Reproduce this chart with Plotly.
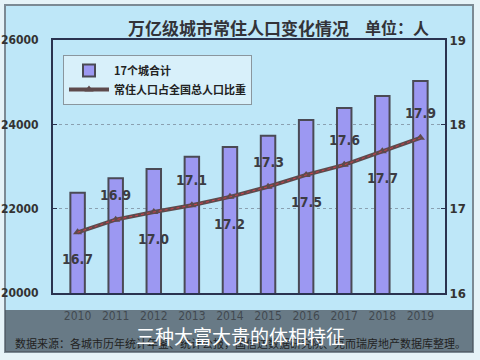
import plotly.graph_objects as go

years = ["2010", "2011", "2012", "2013", "2014", "2015", "2016", "2017", "2018", "2019"]
pop_total = [22380, 22720, 22940, 23230, 23460, 23730, 24100, 24390, 24670, 25030]
share = [16.72, 16.87, 16.96, 17.04, 17.14, 17.26, 17.40, 17.52, 17.68, 17.84]
share_labels = ["16.7", "16.9", "17.0", "17.1", "17.2", "17.3", "17.5", "17.6", "17.7", "17.9"]
left_ticks = [20000, 22000, 24000, 26000]
right_ticks = [16, 17, 18, 19]

W, H = 480, 360
L, R, T, B = 53, 35, 40, 67

def px_x(x):
    return (x - L) / (W - L - R)

def px_y(y):
    return (H - B - y) / (H - T - B)

def note(x, y, text, size, color, family="Noto Sans CJK SC"):
    fig.add_annotation(xref="paper", yref="paper", x=px_x(x), y=px_y(y),
                       xanchor="center", yanchor="middle", text=text,
                       showarrow=False, font=dict(family=family, size=size, color=color))

fig = go.Figure()
fig.add_trace(go.Bar(
    x=years, y=pop_total, name="<b>17个城合计</b>",
    marker=dict(color="#9c98f2", line=dict(color="#4a4a55", width=2)),
    width=0.38, yaxis="y",
))
fig.add_trace(go.Scatter(
    x=years, y=share, name="<b>常住人口占全国总人口比重</b>", yaxis="y2",
    mode="lines+markers",
    line=dict(color="#5e4a4c", width=4),
    marker=dict(symbol="triangle-up", size=8, color="#5e4a4c"),
))
fig.add_trace(go.Scatter(
    x=years, y=share, yaxis="y2", mode="lines", showlegend=False,
    line=dict(color="#d0404a", width=1, dash="dot"), hoverinfo="skip",
))

for i, (v, lab) in enumerate(zip(share, share_labels)):
    fig.add_annotation(
        x=i, y=v, xref="x", yref="y2", text="<b>" + lab + "</b>",
        xanchor="center", yanchor="middle",
        showarrow=False, yshift=(-27 if i % 2 == 0 else 25),
        font=dict(family="DejaVu Sans Condensed", size=14, color="#3c3c44"),
    )

# outer frame
fig.add_shape(type="rect", xref="paper", yref="paper",
              x0=px_x(5), x1=px_x(473), y0=px_y(352), y1=px_y(5),
              fillcolor="#bee7f8", line=dict(color="#7c8a94", width=2), layer="below")

note(238, 27, "<b>万亿级城市常住人口变化情况</b>", 17, "#333338")
note(397, 27, "<b>单位：人</b>", 16, "#333338")
note(240, 343, "数据来源：各城市历年统计年鉴、统计公报，国信达数据研究院、克而瑞房地产数据库整理。",
     11, "#222222")

# caption band
fig.add_shape(type="rect", xref="paper", yref="paper",
              x0=px_x(5), x1=px_x(473), y0=px_y(352), y1=px_y(310),
              fillcolor="rgba(70,80,90,0.72)", line=dict(width=0), layer="above")
note(240, 335, "三种大富大贵的体相特征", 19, "#ffffff")

fig.update_layout(
    width=W, height=H,
    margin=dict(l=L, r=R, t=T, b=B),
    paper_bgcolor="#e6f3f8",
    plot_bgcolor="rgba(0,0,0,0)",
    showlegend=True,
    legend=dict(x=px_x(63), y=px_y(55), xanchor="left", yanchor="top",
                bgcolor="#d8f0fa", bordercolor="#8a969e", borderwidth=1,
                font=dict(family="Noto Sans CJK SC", size=11, color="#222"),
                tracegroupgap=2, itemwidth=40),
    bargap=0.6,
    xaxis=dict(type="category", automargin=False, showgrid=False, showline=True,
               linecolor="#2a3350", linewidth=2, mirror=True, ticks="",
               ticklabelstandoff=11,
               tickfont=dict(family="DejaVu Sans Condensed", size=12, color="#333")),
    yaxis=dict(range=[20000, 26000], tickvals=left_ticks, automargin=False,
               ticktext=["<b>" + str(v) + "</b>" for v in left_ticks],
               showgrid=True, gridcolor="#8aa0b0", griddash="dot", gridwidth=1,
               showline=True, linecolor="#2a3350", linewidth=2, ticks="inside",
               ticklen=4, tickcolor="#2a3350", ticklabelstandoff=10,
               tickfont=dict(family="DejaVu Sans Condensed", size=12, color="#333"),
               zeroline=False),
    yaxis2=dict(range=[16, 19], tickvals=right_ticks, automargin=False,
                ticktext=["<b>" + str(v) + "</b>" for v in right_ticks],
                overlaying="y", side="right",
                showgrid=False, showline=True, linecolor="#2a3350", linewidth=2,
                ticks="inside", ticklen=4, tickcolor="#2a3350",
                tickfont=dict(family="DejaVu Sans Condensed", size=13, color="#333"),
                zeroline=False),
)

fig.write_html("out.html")
